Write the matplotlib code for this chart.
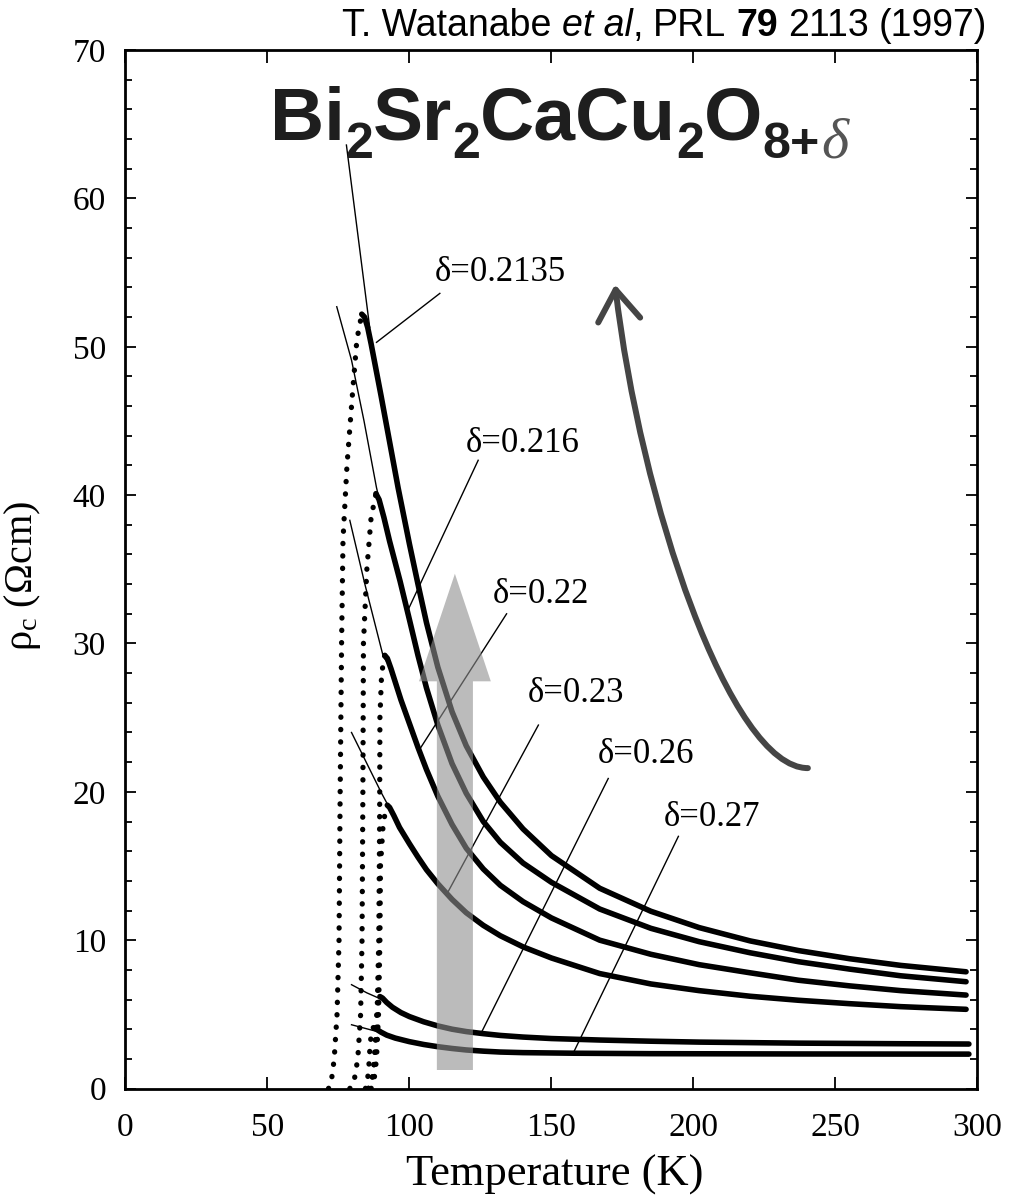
import matplotlib
matplotlib.use('Agg')
import matplotlib.pyplot as plt
from matplotlib.patches import FancyArrow, FancyArrowPatch
from matplotlib.path import Path
from matplotlib.ticker import MultipleLocator
from matplotlib.transforms import IdentityTransform

plt.rcParams['font.family'] = 'Liberation Serif'
plt.rcParams['mathtext.fontset'] = 'custom'
plt.rcParams['mathtext.rm'] = 'Liberation Serif'
plt.rcParams['mathtext.it'] = 'Liberation Serif:italic'
plt.rcParams['mathtext.default'] = 'rm'

# ---- data (T in K, rho in Ohm cm) ----
# superconducting transitions (dotted part)
c1_tt = [71.5, 72.5, 73.5, 74.5, 75.2, 75.6, 76.1, 76.6, 78.0, 80.0, 81.5, 83.2]
c1_rt = [0.0, 0.5, 2.0, 5.0, 10.0, 20.0, 30.0, 37.0, 42.0, 47.0, 50.5, 52.2]
c2_tt = [79.0, 80.5, 81.8, 82.8, 83.3, 83.6, 83.8, 85.0, 86.5, 88.2]
c2_rt = [0.0, 0.5, 2.0, 5.0, 10.0, 20.0, 30.0, 35.0, 38.5, 40.1]
c3_tt = [85.5, 86.8, 87.8, 88.6, 89.2, 89.5, 89.6, 90.2, 91.3]
c3_rt = [0.0, 0.5, 2.0, 5.0, 10.0, 18.0, 25.0, 28.0, 29.2]
c4_tt = [86.5, 87.5, 88.4, 89.1, 89.6, 89.8, 90.8, 92.2]
c4_rt = [0.0, 0.5, 2.0, 5.0, 10.0, 15.0, 18.0, 19.1]
c5_tt = [85.5, 86.5, 87.3, 87.8, 88.2, 88.6, 89.6]
c5_rt = [0.0, 0.3, 1.2, 2.5, 4.0, 5.3, 6.2]
c6_tt = [84.5, 85.2, 85.7, 86.1, 86.5, 87.3]
c6_rt = [0.0, 0.5, 1.5, 2.8, 3.6, 4.1]

# normal state (solid part)
c1_t = [83.2, 84.2, 85.3, 86.5, 88, 90, 93, 96, 100, 103, 106, 110, 115, 120, 126, 132, 140, 150, 167, 185, 202, 220, 237, 255, 273, 296]
c1_r = [52.2, 52.0, 51.3, 50.2, 48.7, 46.7, 43.6, 40.5, 36.7, 34.0, 31.4, 28.4, 25.4, 23.1, 21.0, 19.3, 17.5, 15.7, 13.5, 11.95, 10.85, 9.95, 9.3, 8.75, 8.3, 7.87]
c2_t = [88.2, 89.3, 91, 93, 96.7, 100, 103, 106, 110, 115, 120, 126, 132, 140, 150, 167, 185, 202, 220, 237, 255, 273, 296]
c2_r = [40.1, 39.7, 38.5, 36.9, 34.2, 31.6, 29.2, 27.0, 24.5, 21.9, 19.9, 18.0, 16.6, 15.2, 13.9, 12.1, 10.8, 9.9, 9.15, 8.55, 8.05, 7.6, 7.2]
c3_t = [91.3, 92.2, 93.5, 95, 97, 100, 103, 106, 110, 115, 120, 126, 132, 140, 150, 167, 185, 202, 220, 237, 255, 273, 296]
c3_r = [29.2, 29.0, 28.3, 27.4, 26.2, 24.6, 23.0, 21.5, 19.7, 17.8, 16.2, 14.8, 13.7, 12.6, 11.5, 10.0, 9.05, 8.35, 7.8, 7.3, 6.92, 6.6, 6.3]
c4_t = [92.2, 93, 94.5, 96.5, 100, 103, 106, 110, 115, 120, 126, 132, 140, 150, 167, 185, 202, 220, 237, 255, 273, 296]
c4_r = [19.1, 18.95, 18.4, 17.6, 16.5, 15.6, 14.75, 13.8, 12.75, 11.85, 11.0, 10.3, 9.55, 8.8, 7.75, 7.05, 6.6, 6.22, 5.95, 5.72, 5.52, 5.34]
c5_t = [89.6, 90.5, 92, 94, 97, 100, 105, 110, 115, 120, 126, 132, 140, 150, 167, 185, 202, 237, 273, 297]
c5_r = [6.2, 6.1, 5.8, 5.48, 5.12, 4.85, 4.5, 4.22, 4.0, 3.84, 3.7, 3.58, 3.47, 3.37, 3.27, 3.19, 3.13, 3.06, 3.02, 3.0]
c6_t = [87.3, 88.2, 90, 92, 95, 100, 105, 110, 115, 120, 126, 132, 140, 158, 185, 237, 297]
c6_r = [4.1, 4.02, 3.8, 3.6, 3.4, 3.16, 2.97, 2.82, 2.7, 2.6, 2.52, 2.46, 2.42, 2.38, 2.35, 2.33, 2.32]

# thin extrapolation lines above each peak
f1_t = [77.8, 82.0, 86.0]
f1_r = [63.6, 57.3, 51.3]
f2_t = [74.4, 79.6, 84.0, 88.4, 90.0]
f2_r = [52.7, 49.1, 45.0, 40.5, 39.2]
f3_t = [79.0, 84.3, 90.8, 93.0]
f3_r = [38.3, 34.0, 29.1, 28.5]
f4_t = [79.6, 90.2, 93.0]
f4_r = [24.0, 19.9, 18.9]
f5_t = [79.6, 85.0, 91.5]
f5_r = [7.0, 6.45, 5.9]
f6_t = [79.6, 85.5, 90.5]
f6_r = [4.3, 4.0, 3.75]

labels = ['δ=0.2135', 'δ=0.216', 'δ=0.22', 'δ=0.23', 'δ=0.26', 'δ=0.27']
label_t = [131.9, 139.8, 146.2, 158.6, 183.2, 206.7]
label_r = [55.0, 43.5, 33.3, 26.6, 22.5, 18.25]
# label leader lines: (T0, rho0) at label -> (T1, rho1) on curve
lead_t0 = [110.7, 124.2, 134.2, 145.4, 170.0, 194.7]
lead_r0 = [53.6, 42.35, 32.0, 24.5, 20.9, 17.0]
lead_t1 = [88.4, 99.6, 103.7, 113.7, 125.4, 157.7]
lead_r1 = [50.3, 32.3, 22.9, 13.3, 3.8, 2.4]

xticks = [0, 50, 100, 150, 200, 250, 300]
yticks = [0, 10, 20, 30, 40, 50, 60, 70]

# ---- figure ----
fig = plt.figure(figsize=(10.11, 12.04), dpi=100)
ax = fig.add_axes([0.1241, 0.0959, 0.8427, 0.8625])

trans = [(c1_tt, c1_rt), (c2_tt, c2_rt), (c3_tt, c3_rt), (c4_tt, c4_rt), (c5_tt, c5_rt), (c6_tt, c6_rt)]
normal = [(c1_t, c1_r), (c2_t, c2_r), (c3_t, c3_r), (c4_t, c4_r), (c5_t, c5_r), (c6_t, c6_r)]
fits = [(f1_t, f1_r), (f2_t, f2_r), (f3_t, f3_r), (f4_t, f4_r), (f5_t, f5_r), (f6_t, f6_r)]

for tt, rt in trans:
    ax.plot(tt, rt, color='black', lw=3.8, linestyle=(0, (0.05, 2.3)), dash_capstyle='round')
for t, r in normal:
    ax.plot(t, r, color='black', lw=4.0, solid_capstyle='round', solid_joinstyle='round')
for t, r in fits:
    ax.plot(t, r, color='black', lw=1.0)

for lab, x, y, x0, y0, x1, y1 in zip(labels, label_t, label_r, lead_t0, lead_r0, lead_t1, lead_r1):
    ax.plot([x0, x1], [y0, y1], color='black', lw=1.0)
    ax.text(x, y, lab, ha='center', va='center', fontsize=25)

# light grey straight arrow
ax.add_patch(FancyArrow(116, 1.25, 0, 33.45, width=12.7, head_width=25.3, head_length=7.25,
                        length_includes_head=True, color='#8e8e8e', alpha=0.6, lw=0, zorder=5))

# dark grey curved arrow
verts = [(240.3, 21.6), (212.9, 21.6), (181.2, 39.7), (172.4, 54.2)]
codes = [Path.MOVETO, Path.CURVE4, Path.CURVE4, Path.CURVE4]
ax.add_patch(FancyArrowPatch(path=Path(verts, codes), arrowstyle='->,head_length=0.55,head_width=0.38',
                             mutation_scale=40, lw=4.3, color='#454545', zorder=6))

ax.set_xlim(0, 300)
ax.set_ylim(0, 70)
ax.set_xticks(xticks)
ax.set_yticks(yticks)
ax.yaxis.set_minor_locator(MultipleLocator(2))
ax.tick_params(which='both', direction='in', top=True, right=True, width=1.3, labelsize=24)
ax.tick_params(axis='x', which='major', length=9, pad=17)
ax.tick_params(axis='y', which='major', length=8, pad=14)
ax.tick_params(axis='y', which='minor', length=5)
for s in ax.spines.values():
    s.set_linewidth(2.0)

ax.set_xlabel('Temperature (K)', fontsize=32)
ax.xaxis.set_label_coords(0.5035, -0.064)
ax.set_ylabel(r'$\rho_{\rm c}$ (Ωcm)', fontsize=29)
ax.yaxis.set_label_coords(-0.0968, 0.494)

# ---- header texts placed run by run (pixels from top-left) ----
H = 1204
renderer = fig.canvas.get_renderer()


def put_runs(x_px, y_px, runs, align='left'):
    items = []
    for s, kw, dy, gap in runs:
        t = fig.text(0, 0, s, transform=IdentityTransform(), ha='left', va='baseline', **kw)
        items.append((t, dy, gap))
    widths = [t.get_window_extent(renderer).width for t, _, _ in items]
    total = sum(widths) + sum(g for _, _, g in items)
    x = x_px - total if align == 'right' else x_px
    for (t, dy, gap), w in zip(items, widths):
        t.set_position((x, H - y_px - dy))
        x += w + gap


sans = dict(family='Liberation Sans', size=27)
sp = 10
put_runs(987, 36, [
    ('T. Watanabe', sans, 0, sp),
    ('et al', dict(sans, style='italic'), 0, 0),
    (',', sans, 0, sp),
    ('PRL', sans, 0, sp),
    ('79', dict(sans, weight='bold'), 0, sp),
    ('2113', sans, 0, sp),
    ('(1997)', sans, 0, 0),
], align='right')

big = dict(family='Liberation Sans', weight='bold', size=54, color='#1e1e1e')
sub = dict(family='Liberation Sans', weight='bold', size=36, color='#1e1e1e')
dlt = dict(family='Liberation Serif', style='italic', size=42, color='#555555')
put_runs(270, 140, [
    ('Bi', big, 0, 0),
    ('2', sub, 18, 0),
    ('Sr', big, 0, 0),
    ('2', sub, 18, 0),
    ('CaCu', big, 0, 0),
    ('2', sub, 18, 0),
    ('O', big, 0, 0),
    ('8+', sub, 18, 2),
    ('δ', dlt, 18, 0),
])

fig.savefig('out.png', dpi=100)
